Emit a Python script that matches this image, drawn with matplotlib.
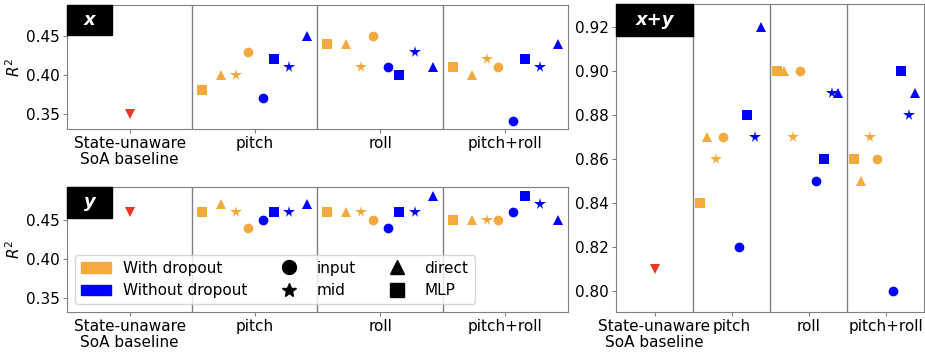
import matplotlib.pyplot as plt
from matplotlib.patches import Patch
from matplotlib.lines import Line2D

groups = ["State-unaware\nSoA baseline", "pitch", "roll", "pitch+roll"]
# order of points inside each group (left to right)
point_order = [("drop", "MLP"), ("drop", "direct"), ("drop", "mid"), ("drop", "input"),
               ("nodrop", "input"), ("nodrop", "MLP"), ("nodrop", "mid"), ("nodrop", "direct")]

# values per group (pitch, roll, pitch+roll) in point_order
x_baseline = 0.35
x_vals = [
    [0.38, 0.40, 0.40, 0.43, 0.37, 0.42, 0.41, 0.45],
    [0.44, 0.44, 0.41, 0.45, 0.41, 0.40, 0.43, 0.41],
    [0.41, 0.40, 0.42, 0.41, 0.34, 0.42, 0.41, 0.44],
]
y_baseline = 0.46
y_vals = [
    [0.46, 0.47, 0.46, 0.44, 0.45, 0.46, 0.46, 0.47],
    [0.46, 0.46, 0.46, 0.45, 0.44, 0.46, 0.46, 0.48],
    [0.45, 0.45, 0.45, 0.45, 0.46, 0.48, 0.47, 0.45],
]
xy_baseline = 0.81
xy_vals = [
    [0.84, 0.87, 0.86, 0.87, 0.82, 0.88, 0.87, 0.92],
    [0.90, 0.90, 0.87, 0.90, 0.85, 0.86, 0.89, 0.89],
    [0.86, 0.85, 0.87, 0.86, 0.80, 0.90, 0.88, 0.89],
]

colors = {"drop": "#F4A93F", "nodrop": "#0000FF"}
markers = {"input": "o", "mid": "*", "direct": "^", "MLP": "s"}
base_color = "#EE3524"

offsets_left = [-0.42, -0.27, -0.15, -0.055, 0.065, 0.155, 0.275, 0.42]
offsets_right = [-0.41, -0.32, -0.205, -0.105, 0.10, 0.205, 0.305, 0.38]

plt.rcParams["font.size"] = 11

fig = plt.figure(figsize=(9.25, 3.52), dpi=100)
ax_x = fig.add_axes([0.0724, 0.6335, 0.5416, 0.352])
ax_y = fig.add_axes([0.0724, 0.1136, 0.5416, 0.355])
ax_xy = fig.add_axes([0.666, 0.1136, 0.333, 0.875])


def draw_panel(ax, baseline, vals, offsets, ylim):
    ax.plot(0, baseline, linestyle="none", marker="v", color=base_color, ms=7,
            markeredgewidth=0)
    for g, gv in enumerate(vals):
        for (kind, pos), off, v in zip(point_order, offsets, gv):
            ms = 7 if markers[pos] != "*" else 8.5
            ax.plot(g + 1 + off, v, linestyle="none", marker=markers[pos],
                    color=colors[kind], ms=ms, markeredgewidth=0)
    for d in [0.5, 1.5, 2.5]:
        ax.axvline(d, color="gray", lw=1)
    ax.set_xlim(-0.5, 3.5)
    ax.set_ylim(*ylim)
    ax.set_xticks(range(4))
    ax.set_xticklabels(groups, linespacing=1.1)
    for s in ax.spines.values():
        s.set_color("gray")
    ax.tick_params(axis="both", labelsize=11, length=3, pad=2, color="gray")


draw_panel(ax_x, x_baseline, x_vals, offsets_left, (0.33, 0.49))
draw_panel(ax_y, y_baseline, y_vals, offsets_left, (0.332, 0.492))
draw_panel(ax_xy, xy_baseline, xy_vals, offsets_right, (0.7905, 0.9305))

ax_x.set_yticks([0.35, 0.40, 0.45])
ax_y.set_yticks([0.35, 0.40, 0.45])
ax_xy.set_yticks([0.80, 0.82, 0.84, 0.86, 0.88, 0.90, 0.92])
ax_x.set_ylabel("$R^2$", labelpad=2)
ax_y.set_ylabel("$R^2$", labelpad=2)

# black label boxes in the corner
for ax, txt, w, h in [(ax_x, "x", 0.09, 0.245), (ax_y, "y", 0.09, 0.245),
                      (ax_xy, "x+y", 0.25, 0.103)]:
    ax.add_patch(plt.Rectangle((0, 1 - h), w, h, transform=ax.transAxes,
                               color="black", zorder=5, clip_on=False))
    ax.text(w / 2, 1 - h / 2, txt, transform=ax.transAxes, ha="center", va="center",
            color="white", fontsize=13, fontstyle="italic", fontweight="bold", zorder=6)

handles = [
    Patch(color=colors["drop"], label="With dropout"),
    Patch(color=colors["nodrop"], label="Without dropout"),
    Line2D([], [], linestyle="none", marker="o", color="black", ms=10, label="input"),
    Line2D([], [], linestyle="none", marker="*", color="black", ms=10, label="mid"),
    Line2D([], [], linestyle="none", marker="^", color="black", ms=10, label="direct"),
    Line2D([], [], linestyle="none", marker="s", color="black", ms=10, label="MLP"),
]
ax_y.legend(handles=handles, ncol=3, loc="lower left", fontsize=11, handlelength=2,
            columnspacing=1.7)

fig.savefig("out.png", dpi=100)
